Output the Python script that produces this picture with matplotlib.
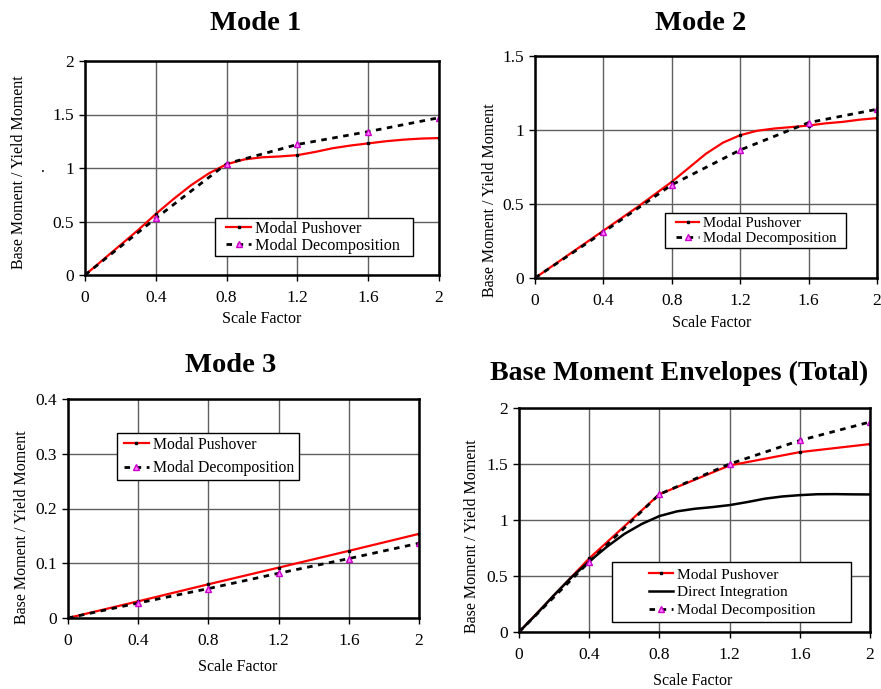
import numpy as np
import matplotlib
matplotlib.use("Agg")
import matplotlib.pyplot as plt
from matplotlib.patches import Rectangle

plt.rcParams['font.family'] = ['Liberation Serif', 'DejaVu Serif']

W, H = 881, 689

# ---- data ----
x_fine = [0, 0.1, 0.2, 0.3, 0.4, 0.5, 0.6, 0.7, 0.8, 0.9, 1.0,
          1.1, 1.2, 1.3, 1.4, 1.5, 1.6, 1.7, 1.8, 1.9, 2.0]
x_pts = [0, 0.4, 0.8, 1.2, 1.6, 2.0]

m1_pushover = [0, 0.14, 0.28, 0.42, 0.57, 0.71, 0.84, 0.95, 1.035, 1.08, 1.1,
               1.108, 1.12, 1.15, 1.185, 1.21, 1.23, 1.25, 1.265, 1.275, 1.28]
m1_decomp = [0, 0.53, 1.04, 1.22, 1.34, 1.47]

m2_pushover = [0, 0.08, 0.16, 0.24, 0.32, 0.40, 0.48, 0.565, 0.65, 0.745, 0.84,
               0.915, 0.965, 0.995, 1.01, 1.02, 1.03, 1.045, 1.055, 1.07, 1.08]
m2_decomp = [0, 0.31, 0.63, 0.865, 1.05, 1.14]

m3_pushover = [0, 0.0305, 0.0616, 0.092, 0.1226, 0.1537]
m3_decomp = [0, 0.0274, 0.0537, 0.0817, 0.1085, 0.1366]

tot_pushover = [0, 0.657, 1.23, 1.487, 1.606, 1.678]
tot_decomp = [0, 0.627, 1.23, 1.50, 1.71, 1.875]
tot_direct = [0, 0.16, 0.33, 0.49, 0.63, 0.76, 0.875, 0.965, 1.035, 1.077, 1.1,
              1.115, 1.133, 1.16, 1.19, 1.21, 1.222, 1.23, 1.231, 1.229, 1.228]

x_ticks = [0, 0.4, 0.8, 1.2, 1.6, 2]


def fx(px):
    return px / W


def fy(py):
    return 1 - py / H


def box(l, t, r, b):
    return [fx(l), fy(b), fx(r) - fx(l), fy(t) - fy(b)]


fig = plt.figure(figsize=(W / 100, H / 100), dpi=100)

red_kw = dict(color='red', lw=1.6, marker='s', ms=2, mfc='black', mec='black')
dec_kw = dict(color='black', lw=2.0, ls=(0, (2, 2)), marker='^', ms=5,
              mfc='#ff80ff', mec='#cc00cc', mew=1)
tick_fs = 12.5
lab_fs = 11.5
title_fs = 20.5


def style(ax, ymax, ystep):
    ax.set_xlim(0, 2)
    ax.set_ylim(0, ymax)
    ax.set_xticks(x_ticks)
    ax.set_xticklabels(['%g' % v for v in x_ticks])
    yt = np.round(np.arange(0, ymax + ystep / 2, ystep), 3)
    ax.set_yticks(yt)
    ax.set_yticklabels(['%g' % v for v in yt])
    ax.grid(True, color='#606060', lw=1)
    ax.set_axisbelow(True)
    for s in ax.spines.values():
        s.set_color('black')
        s.set_linewidth(1.8)
    ax.tick_params(direction='out', length=4, width=1, labelsize=tick_fs)
    ax.tick_params(axis='x', pad=7)
    ax.tick_params(axis='y', pad=4)


def legend(ax, frame, hx, rows, fs):
    # frame: (left, top, right, bottom) in pixels; hx: handle start; rows: row centres
    l, t, r, b = frame
    ax.add_patch(Rectangle((fx(l), fy(b)), fx(r) - fx(l), fy(t) - fy(b),
                           transform=fig.transFigure, facecolor='white',
                           edgecolor='black', lw=1, zorder=5))
    n = len(rows)
    fs_px = fs * 100 / 72
    gap = (rows[-1] - rows[0]) / max(n - 1, 1)
    spacing = max(gap / fs_px - 1.0, 0) if n > 1 else 0
    leg = ax.legend(loc='center left',
                    bbox_to_anchor=(fx(hx), fy((rows[0] + rows[-1]) / 2)),
                    bbox_transform=fig.transFigure, borderaxespad=0,
                    borderpad=0, fontsize=fs, frameon=False, numpoints=1,
                    handlelength=1.58, handletextpad=0.25,
                    labelspacing=spacing)
    leg.set_zorder(6)
    return leg


# Mode 1
ax1 = fig.add_axes(box(85, 61, 439, 275))
ax1.plot(x_fine, m1_pushover, markevery=4, label='Modal Pushover', **red_kw)
ax1.plot(x_pts, m1_decomp, label='Modal Decomposition', **dec_kw)
style(ax1, 2, 0.5)
legend(ax1, (215, 218, 413, 256), 226, [229, 246], 11.6)
fig.text(fx(256), fy(24), 'Mode 1', ha='center', va='center',
         fontsize=title_fs, fontweight='bold')
fig.text(fx(19), fy(172), 'Base Moment / Yield Moment', rotation=90,
         ha='center', va='center', fontsize=lab_fs)
fig.text(fx(43), fy(168), '.', ha='center', va='center', fontsize=lab_fs)
fig.text(fx(262), fy(319), 'Scale Factor', ha='center', va='center',
         fontsize=lab_fs)

# Mode 2
ax2 = fig.add_axes(box(535, 56, 877, 278))
ax2.plot(x_fine, m2_pushover, markevery=4, label='Modal Pushover', **red_kw)
ax2.plot(x_pts, m2_decomp, label='Modal Decomposition', **dec_kw)
style(ax2, 1.5, 0.5)
legend(ax2, (665, 213, 846, 248), 676, [223, 239], 10.7)
fig.text(fx(701), fy(24), 'Mode 2', ha='center', va='center',
         fontsize=title_fs, fontweight='bold')
fig.text(fx(490), fy(200), 'Base Moment / Yield Moment', rotation=90,
         ha='center', va='center', fontsize=lab_fs)
fig.text(fx(712), fy(323), 'Scale Factor', ha='center', va='center',
         fontsize=lab_fs)

# Mode 3
ax3 = fig.add_axes(box(68, 399, 419, 618))
ax3.plot(x_pts, m3_pushover, label='Modal Pushover', **red_kw)
ax3.plot(x_pts, m3_decomp, label='Modal Decomposition', **dec_kw)
style(ax3, 0.4, 0.1)
legend(ax3, (117, 433, 299, 480), 124, [445, 468], 11.3)
fig.text(fx(231), fy(365), 'Mode 3', ha='center', va='center',
         fontsize=title_fs, fontweight='bold')
fig.text(fx(22), fy(527), 'Base Moment / Yield Moment', rotation=90,
         ha='center', va='center', fontsize=lab_fs)
fig.text(fx(238), fy(667), 'Scale Factor', ha='center', va='center',
         fontsize=lab_fs)

# Total
ax4 = fig.add_axes(box(519, 408, 870, 632))
ax4.plot(x_pts, tot_pushover, label='Modal Pushover', **red_kw)
ax4.plot(x_fine, tot_direct, color='black', lw=1.8, label='Direct Integration')
ax4.plot(x_pts, tot_decomp, label='Modal Decomposition', **dec_kw)
style(ax4, 2, 0.5)
legend(ax4, (612, 562, 851, 622), 649, [573, 592, 612], 11.1)
fig.text(fx(679), fy(373), 'Base Moment Envelopes (Total)', ha='center',
         va='center', fontsize=20.1, fontweight='bold')
fig.text(fx(472), fy(536), 'Base Moment / Yield Moment', rotation=90,
         ha='center', va='center', fontsize=lab_fs)
fig.text(fx(693), fy(681), 'Scale Factor', ha='center', va='center',
         fontsize=lab_fs)

fig.savefig('out.png', dpi=100)
